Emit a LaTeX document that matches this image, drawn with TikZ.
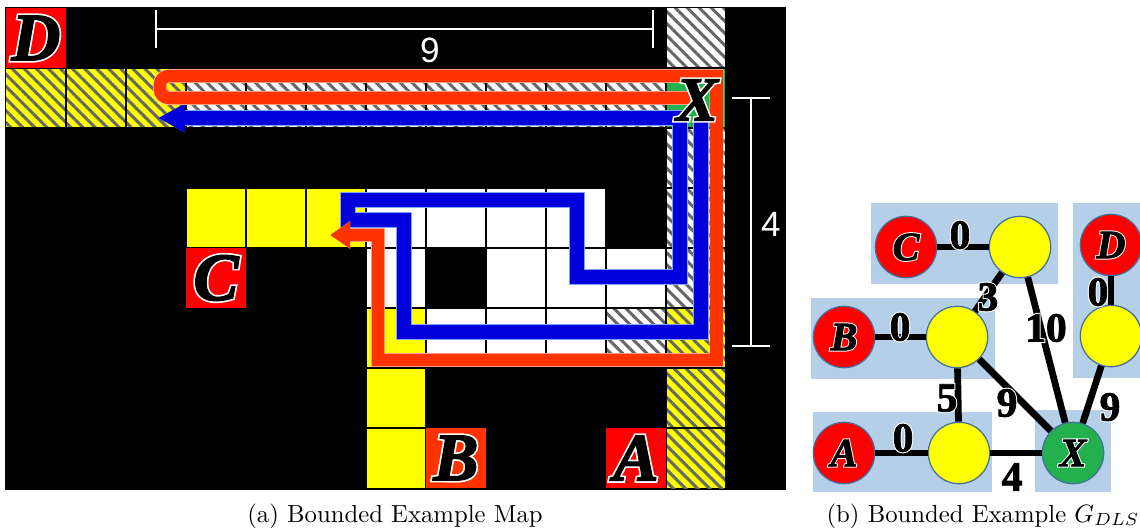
\documentclass[tikz,border=0pt]{standalone}
\usepackage{fontspec}
\usepackage{tikz}
\usetikzlibrary{arrows.meta, patterns.meta}
\newfontface\keyhalo[FakeBold=7]{Liberation Serif Bold Italic}
\newfontface\keycore[FakeBold=2]{Liberation Serif Bold Italic}
\newfontface\numhalo[FakeBold=7]{Liberation Serif Bold}
\newfontface\numcore[FakeBold=2]{Liberation Serif Bold}
\newfontface\dimface{Liberation Sans}
\newcommand{\keyletter}[2]{\rlap{\keyhalo\fontsize{#1}{#1}\selectfont\color{white}#2}{\keycore\fontsize{#1}{#1}\selectfont #2}}
\newcommand{\edgenum}[1]{\rlap{\numhalo\fontsize{16.5}{16.5}\selectfont\color{white}#1}{\numcore\fontsize{16.5}{16.5}\selectfont #1}}
\definecolor{hatchgray}{HTML}{666666}
\definecolor{routered}{HTML}{FF3300}
\definecolor{routeblue}{HTML}{0000DD}
\definecolor{halored}{HTML}{FFD8C8}
\definecolor{haloblue}{HTML}{80A8F0}
\definecolor{xgreen}{HTML}{22B14C}
\definecolor{groupblue}{HTML}{B5CFE8}
\definecolor{ringblue}{HTML}{41719C}
\definecolor{cellyellow}{HTML}{FFFF00}
\definecolor{cellred}{HTML}{FF0000}
\tikzset{
  hatchlines/.style={postaction={pattern={Lines[angle=135,distance=3.4pt,line width=1.2pt]},pattern color=hatchgray}},
  keycell/.style={fill=#1,minimum size=0.84cm,inner sep=0pt},
  dimline/.style={draw=white,line width=0.8pt,{Bar[width=15pt]}-{Bar[width=15pt]}},
  dimnum/.style={text=white,font=\dimface\fontsize{14}{14}\selectfont,inner sep=0pt},
  routeline/.style={line width=#1,line join=miter},
  groupbox/.style={fill=groupblue},
  gnode/.style={circle,fill=#1,draw=ringblue,line width=0.5pt,minimum size=0.86cm,inner sep=0pt},
  gedge/.style={line width=2.7pt},
  numlabel/.style={inner sep=0pt},
  caption/.style={font=\fontsize{9.85}{12}\selectfont,inner sep=0pt}
}
\begin{document}
\begin{tikzpicture}[x=0.014cm,y=-0.014cm]
  \useasboundingbox (0,0) rectangle (1140,527);
  % map
  \fill[black] (5,7) rectangle (786,490);
  \foreach \c/\r in {3/3,4/3,5/3,6/5,6/6,6/7}
    \fill[cellyellow] ({6+60*\c},{8+60*\r}) rectangle ++(60,60);
  \foreach \c/\r in {6/3,7/3,8/3,9/3,6/4,8/4,9/4,10/4,7/5,8/5,9/5}
    \fill[white] ({6+60*\c},{8+60*\r}) rectangle ++(60,60);
  \foreach \c/\r in {11/0,3/1,4/1,5/1,6/1,7/1,8/1,9/1,10/1,11/2,11/3,11/4,10/5}
    \fill[white,hatchlines] ({6+60*\c},{8+60*\r}) rectangle ++(60,60);
  \foreach \c/\r in {0/1,1/1,2/1,11/5,11/6,11/7}
    \fill[cellyellow,hatchlines] ({6+60*\c},{8+60*\r}) rectangle ++(60,60);
  \fill[xgreen] (666,68) rectangle ++(60,60);
  \foreach \c in {1,...,12}
    \draw[black,line width=0.8pt] ({6+60*\c},7) -- ({6+60*\c},490);
  \foreach \r in {1,...,7}
    \draw[black,line width=0.8pt] (5,{8+60*\r}) -- (786,{8+60*\r});
  \node[keycell=cellred] (cellD) at (36,38) {\keyletter{27}{D}};
  \node[keycell=cellred] (cellC) at (216,278) {\keyletter{27}{C}};
  \node[keycell=routered] (cellB) at (456,458) {\keyletter{27}{B}};
  \node[keycell=cellred] (cellA) at (636,458) {\keyletter{27}{A}};
  % distances
  \coordinate (nineL) at (155,29);
  \coordinate (nineR) at (654,29);
  \coordinate (fourT) at (751,97);
  \coordinate (fourB) at (751,347);
  \draw[dimline] (nineL) -- (nineR);
  \draw[dimline] (fourT) -- (fourB);
  \node[dimnum] (nine) at (430,50) {9};
  \node[dimnum] (four) at (771,224) {4};
  % routes
  \draw[routeline=5.8pt,routeblue,preaction={draw=haloblue,line width=6.3pt},-{Triangle[length=10.7pt,width=10.7pt]}]
    (701,118) -- (701,332) -- (404,332) -- (404,220) -- (348,220) -- (348,200)
    -- (577,200) -- (577,277) -- (680,277) -- (680,118) -- (158,118);
  \draw[routeline=5pt,routered,preaction={draw=halored,line width=5.5pt},-{Triangle[length=8pt,width=10.4pt]}]
    (690,98) [rounded corners=3.5pt] -- (160,98) -- (160,76) [sharp corners] -- (716.5,76) -- (716.5,360)
    -- (378,360) -- (378,235) -- (330,235);
  \node[inner sep=0pt] (cellX) at (697,100) {\keyletter{25}{X}};
  % groups
  \fill[groupbox] (871,203) rectangle (1058,284);
  \fill[groupbox] (1073,203) rectangle (1140,378);
  \fill[groupbox] (811,298) rectangle (995,379);
  \fill[groupbox] (813,412) rectangle (992,492);
  \fill[groupbox] (1035,410) rectangle (1111,492);
  % graph
  \node[gnode=cellred] (nC) at (906,247) {\keyletter{16}{C}};
  \node[gnode=cellyellow] (wC) at (1020,247) {};
  \node[gnode=cellred] (nD) at (1111,245) {\keyletter{16}{D}};
  \node[gnode=cellyellow] (wD) at (1111,336) {};
  \node[gnode=cellred] (nB) at (844,337) {\keyletter{16}{B}};
  \node[gnode=cellyellow] (wB) at (957,337) {};
  \node[gnode=cellred] (nA) at (844,453) {\keyletter{16}{A}};
  \node[gnode=cellyellow] (wA) at (959,453) {};
  \node[gnode=xgreen] (nX) at (1073,453) {\keyletter{16}{X}};
  \draw[gedge] (nC) -- (wC);
  \draw[gedge] (nD) -- (wD);
  \draw[gedge] (nB) -- (wB);
  \draw[gedge] (nA) -- (wA);
  \draw[gedge] (wC) -- (wB);
  \draw[gedge] (wC) -- (nX);
  \draw[gedge] (wD) -- (nX);
  \draw[gedge] (wB) -- (wA);
  \draw[gedge] (wB) -- (nX);
  \draw[gedge] (wA) -- (nX);
  \node[numlabel] (lC) at (960,235) {\edgenum{0}};
  \node[numlabel] (lD) at (1098,292) {\edgenum{0}};
  \node[numlabel] (lB) at (900,327) {\edgenum{0}};
  \node[numlabel] (lA) at (903,438) {\edgenum{0}};
  \node[numlabel] (lCB) at (988,297) {\edgenum{3}};
  \node[numlabel] (lCX) at (1046,328) {\edgenum{10}};
  \node[numlabel] (lBA) at (947,398) {\edgenum{5}};
  \node[numlabel] (lBX) at (1007,403) {\edgenum{9}};
  \node[numlabel] (lDX) at (1110,407) {\edgenum{9}};
  \node[numlabel] (lAX) at (1012,477) {\edgenum{4}};
  % captions
  \node[caption] (capA) at (395,516) {(a) Bounded Example Map};
  \node[caption] (capB) at (983,516) {(b) Bounded Example $G_{DLS}$};
\end{tikzpicture}
\end{document}
